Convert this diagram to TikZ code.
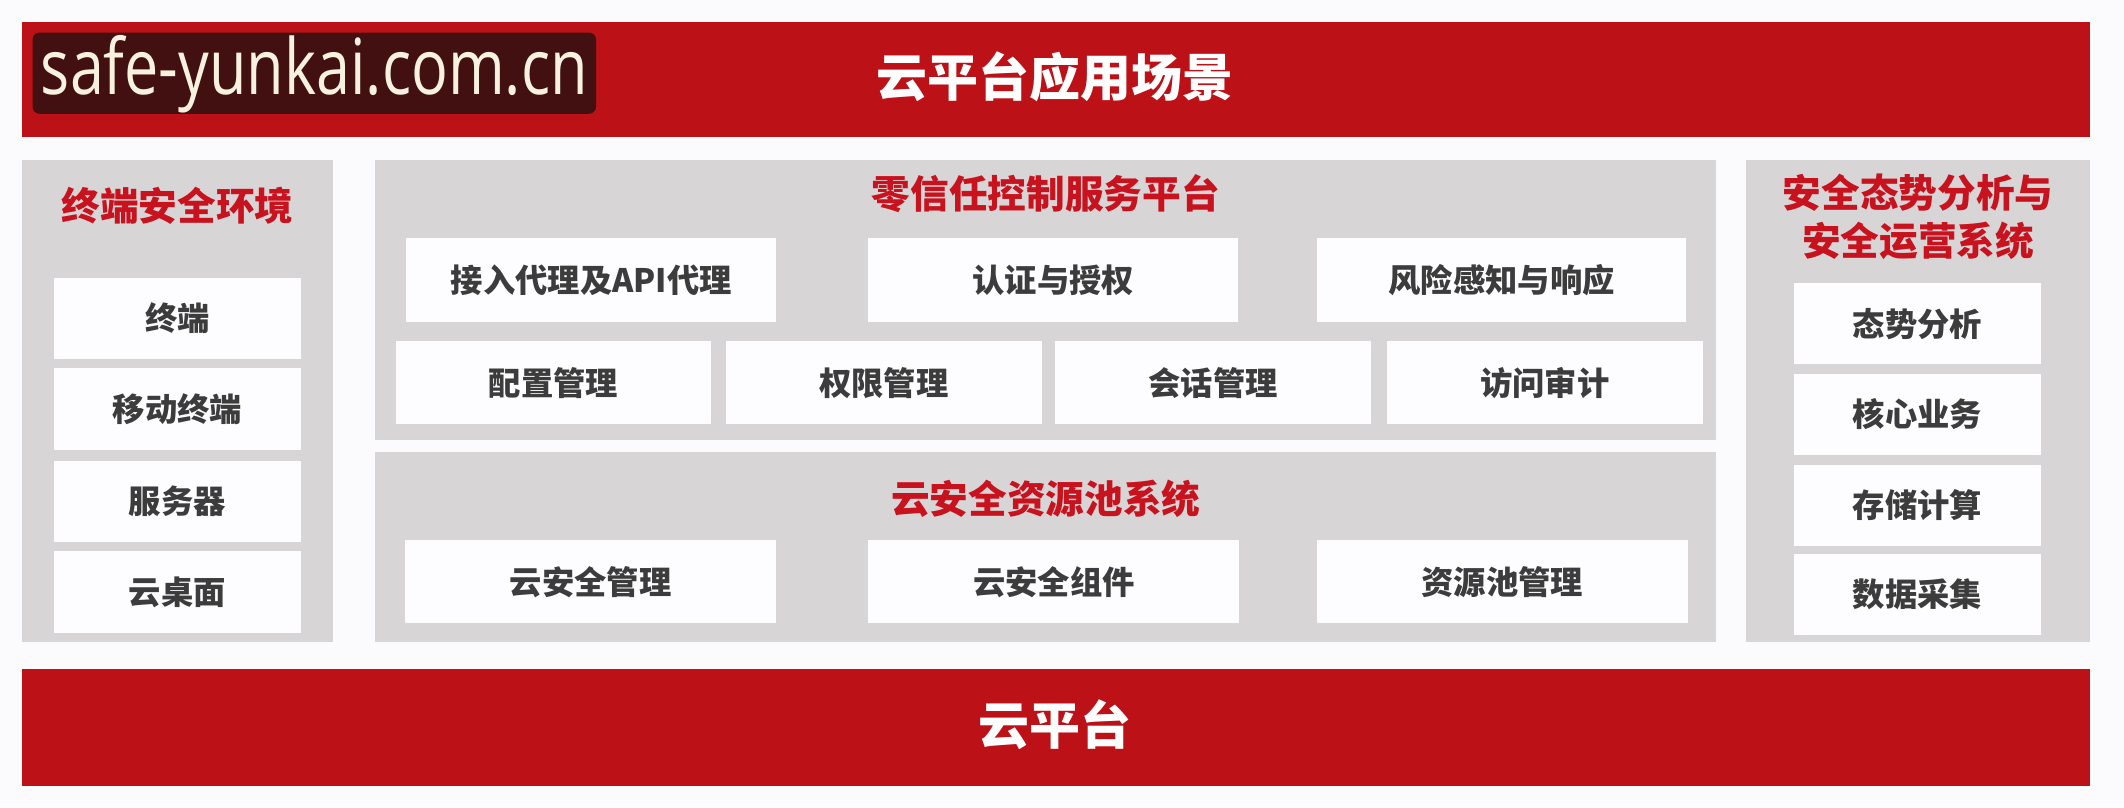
\documentclass[tikz,border=0pt]{standalone}
\usepackage{fontspec}
\setmainfont{Noto Sans CJK SC}
\newfontfamily\wmfont{Open Sans}[FakeStretch=0.79]

\definecolor{bgwhite}{RGB}{251,251,253}
\definecolor{barred}{RGB}{189,17,24}
\definecolor{titlered}{RGB}{200,18,30}
\definecolor{panelgray}{RGB}{216,213,215}
\definecolor{boxwhite}{RGB}{253,252,254}
\definecolor{boxtextgray}{RGB}{60,60,60}
\definecolor{wmdark}{RGB}{67,16,18}
\definecolor{wmcream}{RGB}{247,242,224}

\tikzset{
  bartext/.style = {text = white, font = \fontsize{14.5}{17}\selectfont\bfseries},
  paneltitle/.style = {text = titlered, font = \fontsize{11}{13.5}\selectfont\bfseries, align = center},
  boxtext/.style = {text = boxtextgray, font = \fontsize{9.2}{11}\selectfont\bfseries}
}

\begin{document}
\begin{tikzpicture}[x = 0.013546cm, y = -0.013546cm]
\useasboundingbox (0,0) rectangle (1568,596);
\fill[bgwhite] (0,0) rectangle (1568,596);

% red bars top and bottom
\fill[barred] (16,16) rectangle (1543,101);
\node[bartext] (scene) at (779,57) {云平台应用场景};
\fill[barred] (16,494) rectangle (1543,580);
\node[bartext] (cloud) at (779,535) {云平台};

% watermark
\fill[wmdark, rounded corners = 2pt] (24,24) rectangle (440,84);
\node[text = wmcream, font = \wmfont\fontsize{22}{25}\selectfont] (mark) at (232,55) {safe-yunkai.com.cn};

% gray panels
\fill[panelgray] (16,118) rectangle (246,474);
\fill[panelgray] (277,118) rectangle (1267,325);
\fill[panelgray] (277,334) rectangle (1267,474);
\fill[panelgray] (1289,118) rectangle (1543,474);

\node[paneltitle] (env) at (131,152) {终端安全环境};
\node[paneltitle] (zt) at (772,143) {零信任控制服务平台};
\node[paneltitle] (pool) at (772,368) {云安全资源池系统};
\node[paneltitle] (soc) at (1416,160) {安全态势分析与\\安全运营系统};

% left column
\foreach \y/\txt [count = \i] in {205/终端, 272/移动终端, 340/服务器, 407/云桌面}{
  \fill[boxwhite] (40,\y) rectangle (222,\y+60);
  \node[boxtext] (env\i) at (131,\y+30) {\txt};
}

% right column
\foreach \y/\txt [count = \i] in {209/态势分析, 276/核心业务, 343/存储计算, 409/数据采集}{
  \fill[boxwhite] (1324,\y) rectangle (1507,\y+60);
  \node[boxtext] (soc\i) at (1415.5,\y+30) {\txt};
}

% zero trust, first row
\foreach \x/\txt [count = \i] in {300/接入代理及API代理, 641/认证与授权, 972/风险感知与响应}{
  \fill[boxwhite] (\x,176) rectangle (\x+273,238);
  \node[boxtext] (ztA\i) at (\x+136.5,207) {\txt};
}

% zero trust, second row
\foreach \x/\txt [count = \i] in {292/配置管理, 536/权限管理, 779/会话管理, 1024/访问审计}{
  \fill[boxwhite] (\x,252) rectangle (\x+233,313);
  \node[boxtext] (ztB\i) at (\x+116.5,282.5) {\txt};
}

% resource pool
\foreach \x/\txt [count = \i] in {299/云安全管理, 641/云安全组件, 972/资源池管理}{
  \fill[boxwhite] (\x,399) rectangle (\x+274,460);
  \node[boxtext] (pool\i) at (\x+137,429.5) {\txt};
}

\end{tikzpicture}
\end{document}
